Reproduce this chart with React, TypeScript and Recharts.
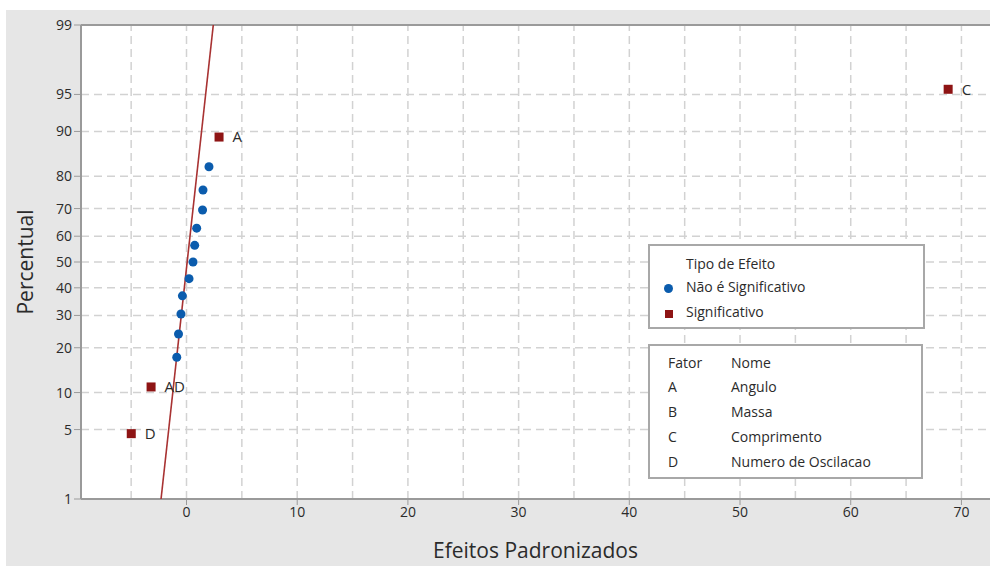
import {
  ComposedChart,
  Scatter,
  XAxis,
  YAxis,
  ReferenceLine,
  ReferenceArea,
  LabelList,
} from "recharts";

// effects that are not significant (blue dots)
const nsEffects = [-0.88, -0.72, -0.5, -0.37, 0.23, 0.59, 0.74, 0.92, 1.45, 1.49, 2.03];
const nsPercent = [17.5, 24, 30.5, 37, 43.5, 50, 56.5, 63, 69.5, 76, 82.5];

// significant effects (red squares)
const sigLabels = ["D", "AD", "A", "C"];
const sigEffects = [-4.99, -3.2, 2.94, 68.8];
const sigPercent = [4.6, 11, 89, 95.5];

// reference line of the normal plot
const fitEffects = [-2.3, 2.42];
const fitPercent = [1, 99];

const pctTicks = [1, 5, 10, 20, 30, 40, 50, 60, 70, 80, 90, 95, 99];
const xTicks = [0, 10, 20, 30, 40, 50, 60, 70];
const xGrid = [-5, 0, 5, 10, 15, 20, 25, 30, 35, 40, 45, 50, 55, 60, 65, 70];

const factorCodes = ["A", "B", "C", "D"];
const factorNames = ["Angulo", "Massa", "Comprimento", "Numero de Oscilacao"];

// inverse normal cdf (Acklam), used as the probability-scale transform
function probit(p: number) {
  const a = [-39.69683028665376, 220.9460984245205, -275.9285104469687, 138.357751867269, -30.66479806614716, 2.506628277459239];
  const b = [-54.47609879822406, 161.5858368580409, -155.6989798598866, 66.80131188771972, -13.28068155288572];
  const c = [-0.007784894002430293, -0.3223964580411365, -2.400758277161838, -2.549732539343734, 4.374664141464968, 2.938163982698783];
  const d = [0.007784695709041462, 0.3224671290700398, 2.445134137142996, 3.754408661907416];
  const pl = 0.02425;
  if (p < pl) {
    const q = Math.sqrt(-2 * Math.log(p));
    return (((((c[0] * q + c[1]) * q + c[2]) * q + c[3]) * q + c[4]) * q + c[5]) /
      ((((d[0] * q + d[1]) * q + d[2]) * q + d[3]) * q + 1);
  }
  if (p > 1 - pl) {
    const q = Math.sqrt(-2 * Math.log(1 - p));
    return -(((((c[0] * q + c[1]) * q + c[2]) * q + c[3]) * q + c[4]) * q + c[5]) /
      ((((d[0] * q + d[1]) * q + d[2]) * q + d[3]) * q + 1);
  }
  const q = p - 0.5;
  const r = q * q;
  return (((((a[0] * r + a[1]) * r + a[2]) * r + a[3]) * r + a[4]) * r + a[5]) * q /
    (((((b[0] * r + b[1]) * r + b[2]) * r + b[3]) * r + b[4]) * r + 1);
}

const z = (pct: number) => probit(pct / 100);
const zTicks = pctTicks.map(z);
const zMin = zTicks[0];
const zMax = zTicks[zTicks.length - 1];
const X_MIN = -9.53;
const X_MAX = 72.58;

const nsData = nsEffects.map((x, i) => ({ x, z: z(nsPercent[i]) }));
const sigData = sigEffects.map((x, i) => ({ x, z: z(sigPercent[i]), label: sigLabels[i] }));
const fitData = fitEffects.map((x, i) => ({ x, z: z(fitPercent[i]) }));

const FONT = "'Open Sans', 'Noto Sans', sans-serif";
const TEXT = "#2b2b2b";
const BLUE = "#0b5cad";
const RED = "#8e1414";
const GRID = "#d2d2d2";
const AXIS = "#9a9a9a";

const pctLabel = (v: number) => {
  const i = zTicks.findIndex((t) => Math.abs(t - v) < 1e-6);
  return i >= 0 ? String(pctTicks[i]) : "";
};

const Dot = (props: any) => <circle cx={props.cx} cy={props.cy} r={4.5} fill={BLUE} />;
const Square = (props: any) => (
  <rect x={props.cx - 4.5} y={props.cy - 4.5} width={9} height={9} fill={RED} />
);

export default function App() {
  return (
    <div style={{ position: "absolute", left: 0, top: 0, width: 990, height: 566, background: "#fff", fontFamily: FONT }}>
      <div style={{ position: "absolute", left: 6, top: 10, width: 984, height: 556, background: "#e6e6e6" }}>
        <ComposedChart
          width={984}
          height={556}
          margin={{ top: 15, right: 0, bottom: 0, left: 0 }}
          style={{ fontFamily: FONT }}
        >
          <XAxis
            type="number"
            dataKey="x"
            domain={[X_MIN, X_MAX]}
            allowDataOverflow
            ticks={xTicks}
            height={67}
            tickSize={6}
            tick={{ fill: TEXT, fontSize: 14 }}
            stroke={AXIS}
            axisLine={{ stroke: AXIS, strokeWidth: 2 }}
            label={{ value: "Efeitos Padronizados", position: "insideBottom", offset: 8, style: { fill: TEXT, fontSize: 21, fontFamily: FONT } }}
          />
          <YAxis
            type="number"
            dataKey="z"
            domain={[zMin, zMax]}
            allowDataOverflow
            ticks={zTicks}
            interval={0}
            width={75}
            tickSize={7}
            tickFormatter={pctLabel}
            tick={{ fill: TEXT, fontSize: 14 }}
            stroke={AXIS}
            axisLine={{ stroke: AXIS, strokeWidth: 2 }}
            label={{ value: "Percentual", angle: -90, position: "insideLeft", offset: 20, style: { fill: TEXT, fontSize: 21, textAnchor: "middle", fontFamily: FONT } }}
          />
          <ReferenceArea x1={X_MIN} x2={X_MAX} y1={zMin} y2={zMax} fill="#fff" fillOpacity={1} stroke="none" />
          {xGrid.map((v) => (
            <ReferenceLine key={"vx" + v} x={v} stroke={GRID} strokeDasharray="8 5" strokeWidth={1.5} />
          ))}
          {zTicks.slice(1, -1).map((v, i) => (
            <ReferenceLine key={"hz" + i} y={v} stroke={GRID} strokeDasharray="8 5" strokeWidth={1.5} />
          ))}
          <ReferenceLine y={zMax} stroke={AXIS} strokeWidth={2} />
          <Scatter
            data={fitData}
            line={{ stroke: "#a83232", strokeWidth: 1.6 }}
            shape={() => null}
            isAnimationActive={false}
          />
          <Scatter data={nsData} shape={Dot} isAnimationActive={false} />
          <Scatter data={sigData} shape={Square} isAnimationActive={false}>
            <LabelList dataKey="label" position="right" offset={9} style={{ fill: TEXT, fontSize: 15, fontFamily: FONT }} />
          </Scatter>
        </ComposedChart>
      </div>

      <div style={{ position: "absolute", left: 648, top: 244, width: 273, height: 81, background: "#fff", border: "2px solid #a8a8a8", fontSize: 14, color: TEXT }}>
        <div style={{ position: "absolute", left: 36, top: 8 }}>Tipo de Efeito</div>
        <div style={{ position: "absolute", left: 14, top: 38, width: 9, height: 9, borderRadius: 5, background: BLUE }} />
        <div style={{ position: "absolute", left: 36, top: 31 }}>Não é Significativo</div>
        <div style={{ position: "absolute", left: 15, top: 64, width: 8, height: 8, background: RED }} />
        <div style={{ position: "absolute", left: 36, top: 56 }}>Significativo</div>
      </div>

      <div style={{ position: "absolute", left: 648, top: 344, width: 271, height: 131, background: "#fff", border: "2px solid #a8a8a8", fontSize: 14, color: TEXT }}>
        <div style={{ position: "absolute", left: 18, top: 7 }}>Fator</div>
        <div style={{ position: "absolute", left: 81, top: 7 }}>Nome</div>
        {factorCodes.map((code, i) => (
          <div key={code}>
            <div style={{ position: "absolute", left: 18, top: 31 + i * 25 }}>{code}</div>
            <div style={{ position: "absolute", left: 81, top: 31 + i * 25 }}>{factorNames[i]}</div>
          </div>
        ))}
      </div>
    </div>
  );
}
